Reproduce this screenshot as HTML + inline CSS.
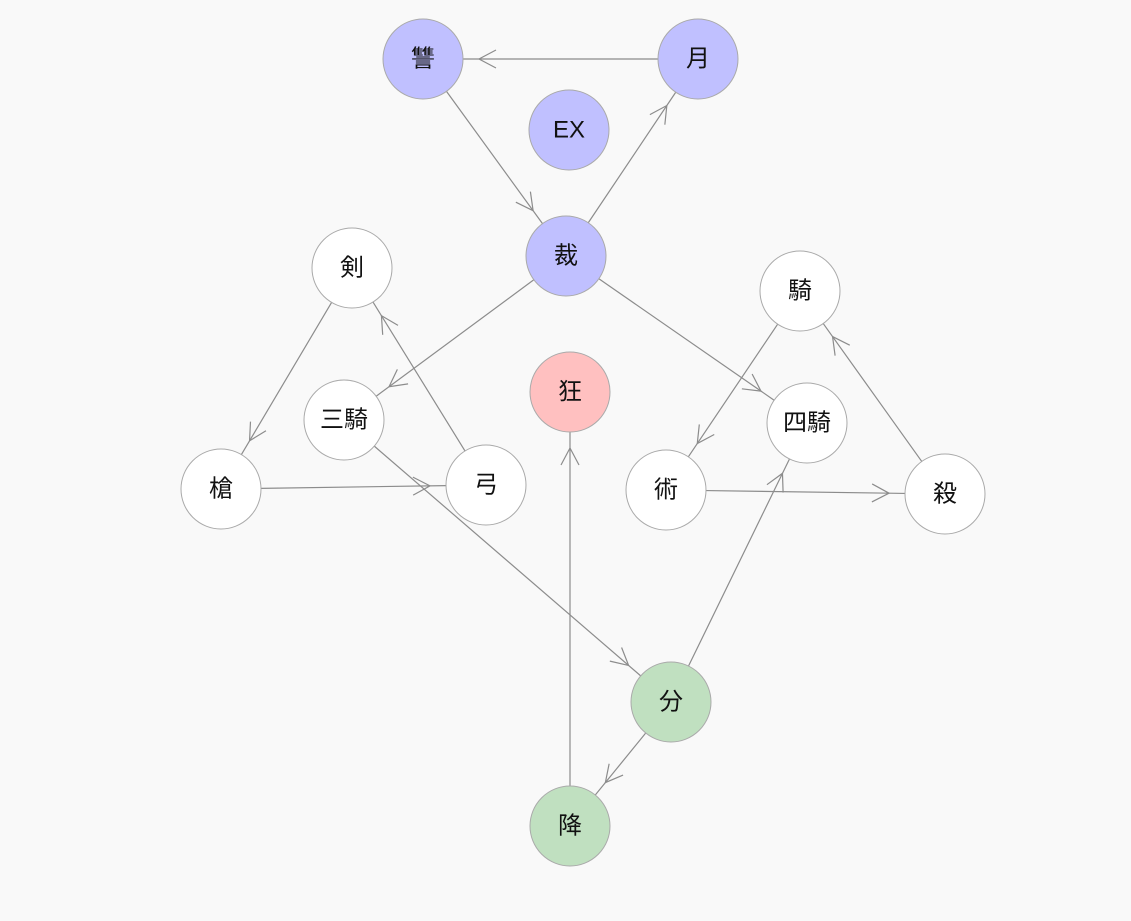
<!DOCTYPE html>
<html><head><meta charset="utf-8"><style>
html,body{margin:0;padding:0;background:#f9f9f9;}
svg{display:block;}
text{font-family:"Liberation Sans","Noto Sans CJK JP",sans-serif;font-size:24px;fill:#111;text-anchor:middle;dominant-baseline:central;}
</style></head><body>
<svg id="s" width="1131" height="921" xmlns="http://www.w3.org/2000/svg">
<g id="edges" stroke="#8c8c8c" stroke-width="1.2" fill="none"></g>
<g stroke="#aaaaaa" stroke-width="1">
<circle cx="423" cy="59" r="40" fill="#c0c0ff"/>
<circle cx="698" cy="59" r="40" fill="#c0c0ff"/>
<circle cx="569" cy="130" r="40" fill="#c0c0ff"/>
<circle cx="566" cy="256" r="40" fill="#c0c0ff"/>
<circle cx="352" cy="268" r="40" fill="#ffffff"/>
<circle cx="800" cy="291" r="40" fill="#ffffff"/>
<circle cx="344" cy="420" r="40" fill="#ffffff"/>
<circle cx="570" cy="392" r="40" fill="#ffc0c0"/>
<circle cx="807" cy="423" r="40" fill="#ffffff"/>
<circle cx="221" cy="489" r="40" fill="#ffffff"/>
<circle cx="486" cy="485" r="40" fill="#ffffff"/>
<circle cx="666" cy="490" r="40" fill="#ffffff"/>
<circle cx="945" cy="494" r="40" fill="#ffffff"/>
<circle cx="671" cy="702" r="40" fill="#c0e0c0"/>
<circle cx="570" cy="826" r="40" fill="#c0e0c0"/>
</g>
<text x="423" y="59">讐</text>
<text x="698" y="59">月</text>
<text x="569" y="130">EX</text>
<text x="566" y="256">裁</text>
<text x="352" y="268">剣</text>
<text x="800" y="291">騎</text>
<text x="344" y="420">三騎</text>
<text x="570" y="392">狂</text>
<text x="807" y="423">四騎</text>
<text x="221" y="489">槍</text>
<text x="486" y="485">弓</text>
<text x="666" y="490">術</text>
<text x="945" y="494">殺</text>
<text x="671" y="702">分</text>
<text x="570" y="826">降</text>
</svg>
<script>
var N={a:[423,59],b:[698,59],c:[566,256],d:[352,268],e:[800,291],f:[344,420],g:[570,392],h:[807,423],i:[221,489],j:[486,485],k:[666,490],l:[945,494],m:[671,702],n:[570,826]};
var E=[["b","a"],["a","c"],["c","b"],["c","f"],["c","h"],["d","i"],["j","d"],["i","j"],["f","m"],["n","g"],["e","k"],["k","l"],["l","e"],["m","h"],["m","n"]];
var g=document.getElementById("edges"),h="";
E.forEach(function(e){var p=N[e[0]],q=N[e[1]];var dx=q[0]-p[0],dy=q[1]-p[1],L=Math.hypot(dx,dy),ux=dx/L,uy=dy/L;
var x1=p[0]+ux*40,y1=p[1]+uy*40,x2=q[0]-ux*40,y2=q[1]-uy*40;
var tx=q[0]-ux*56,ty=q[1]-uy*56;var bx=tx-ux*17,by=ty-uy*17,px=-uy*9,py=ux*9;
h+='<line x1="'+x1+'" y1="'+y1+'" x2="'+x2+'" y2="'+y2+'"/>';
h+='<polyline points="'+(bx+px)+','+(by+py)+' '+tx+','+ty+' '+(bx-px)+','+(by-py)+'"/>';});
g.innerHTML=h;
</script>
</body></html>
